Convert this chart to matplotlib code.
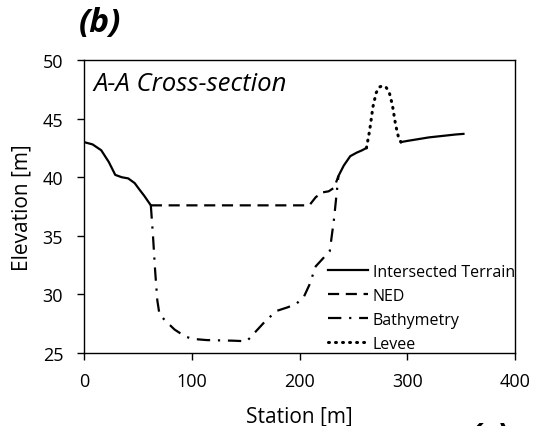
import numpy as np
import matplotlib.pyplot as plt

plt.rcParams['font.family'] = ['Open Sans', 'DejaVu Sans']

# Intersected terrain (left bank / right bank pieces)
terr_l_x = [0, 8, 16, 23, 29, 35, 41, 47, 51, 56, 62]
terr_l_y = [43.0, 42.8, 42.3, 41.3, 40.2, 40.0, 39.9, 39.5, 39.0, 38.4, 37.6]
terr_m_x = [236, 241, 247, 253, 258, 262]
terr_m_y = [40.1, 41.0, 41.8, 42.1, 42.3, 42.5]
terr_r_x = [294, 300, 310, 320, 335, 345, 352]
terr_r_y = [43.0, 43.1, 43.25, 43.4, 43.55, 43.65, 43.7]

# NED
ned_x = [62, 100, 150, 200, 209, 215, 221, 227, 232, 236]
ned_y = [37.6, 37.6, 37.6, 37.6, 37.6, 38.3, 38.7, 38.8, 39.1, 40.1]

# Bathymetry
bat_x = [62, 64, 66, 68, 70, 75, 84, 94, 101, 114, 138, 151, 159, 169, 179, 189, 197, 204, 209, 215, 221, 228, 232, 236]
bat_y = [37.6, 35.0, 32.0, 29.5, 28.3, 27.8, 27.0, 26.4, 26.2, 26.1, 26.05, 26.0, 26.8, 27.8, 28.6, 28.9, 29.2, 29.8, 30.8, 32.4, 33.0, 33.7, 36.5, 40.1]

# Levee
lev_x = [262, 265, 268, 271, 274, 277, 280, 283, 286, 289, 292, 294]
lev_y = [42.5, 44.0, 46.0, 47.2, 47.7, 47.8, 47.7, 47.3, 46.2, 44.5, 43.3, 43.0]

fig = plt.figure(figsize=(5.35, 4.27), dpi=100)
ax = fig.add_axes([0.157, 0.171, 0.806, 0.686])

ax.plot(terr_l_x, terr_l_y, color='black', lw=1.6, ls='-', label='Intersected Terrain')
ax.plot(ned_x, ned_y, color='black', lw=1.6, ls=(0, (5, 3)), label='NED')
ax.plot(bat_x, bat_y, color='black', lw=1.6, ls=(0, (6, 3.5, 1, 3.5)), label='Bathymetry')
ax.plot(lev_x, lev_y, color='black', lw=2.2, ls=(0, (0.3, 2.0)), dash_capstyle='round', label='Levee')
ax.plot(terr_m_x, terr_m_y, color='black', lw=1.6, ls='-')
ax.plot(terr_r_x, terr_r_y, color='black', lw=1.6, ls='-')

ax.set_xlim(0, 400)
ax.set_ylim(25, 50)
ax.set_xticks([0, 100, 200, 300, 400])
ax.set_yticks([25, 30, 35, 40, 45, 50])
ax.tick_params(direction='out', length=5, width=1, labelsize=13)
ax.tick_params(axis='y', pad=10)
ax.tick_params(axis='x', pad=9)
for s in ax.spines.values():
    s.set_linewidth(1.0)

ax.set_xlabel('Station [m]', fontsize=15, labelpad=11)
ax.set_ylabel('Elevation [m]', fontsize=15, labelpad=7)

ax.text(0.021, 0.92, 'A-A Cross-section', transform=ax.transAxes, fontsize=18.5,
        style='italic', va='center', ha='left')

ax.legend(loc='upper left', bbox_to_anchor=(0.566, 0.305), frameon=False,
          fontsize=11.5, handlelength=2.5, handletextpad=0.3, labelspacing=0.5,
          borderpad=0, borderaxespad=0)

fig.text(0.148, 0.945, '(b)', fontsize=24, fontweight='bold', style='italic',
         ha='left', va='center')
fig.text(0.878, 0.014, '(c)', fontsize=24, fontweight='bold', style='italic',
         ha='left', va='top')

fig.savefig('out.png', dpi=100)
